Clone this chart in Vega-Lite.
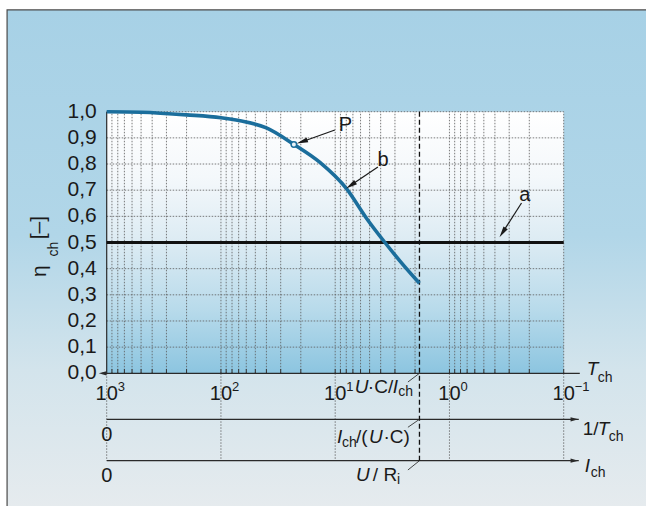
{
  "$schema": "https://vega.github.io/schema/vega-lite/v6.json",
  "width": 457,
  "height": 392.4,
  "autosize": {"type": "none"},
  "padding": {"left": 106.7, "top": 111.7, "right": 82.3, "bottom": 1.9},
  "background": "#ffffff",
  "config": {
    "view": {"stroke": null},
    "font": "Liberation Sans",
    "axis": {"disable": true},
    "text": {"fill": "#1a1a1a", "font": "Liberation Sans"}
  },
  "datasets": {
    "one": [{}],
    "curve": [
      {"T": 1000, "v": 1.0}, {"T": 500, "v": 0.998}, {"T": 200, "v": 0.988},
      {"T": 100, "v": 0.977}, {"T": 68, "v": 0.965}, {"T": 40, "v": 0.938},
      {"T": 23, "v": 0.875}, {"T": 13.6, "v": 0.806}, {"T": 7.94, "v": 0.705},
      {"T": 5.31, "v": 0.592}, {"T": 3.67, "v": 0.5}, {"T": 2.72, "v": 0.43},
      {"T": 1.83, "v": 0.344}
    ],
    "pointP": [{"T": 23, "v": 0.875}],
    "lineA": [{"T": 1000, "v": 0.5}, {"T": 0.1, "v": 0.5}],
    "vgrid": [
      {"T": 0.1}, {"T": 0.2}, {"T": 0.3}, {"T": 0.4}, {"T": 0.5}, {"T": 0.6}, {"T": 0.7}, {"T": 0.8}, {"T": 0.9},
      {"T": 1}, {"T": 2}, {"T": 3}, {"T": 4}, {"T": 5}, {"T": 6}, {"T": 7}, {"T": 8}, {"T": 9},
      {"T": 10}, {"T": 20}, {"T": 30}, {"T": 40}, {"T": 50}, {"T": 60}, {"T": 70}, {"T": 80}, {"T": 90},
      {"T": 100}, {"T": 200}, {"T": 300}, {"T": 400}, {"T": 500}, {"T": 600}, {"T": 700}, {"T": 800}, {"T": 900}
    ],
    "hgrid": [
      {"v": 0.1}, {"v": 0.2}, {"v": 0.3}, {"v": 0.4}, {"v": 0.5},
      {"v": 0.6}, {"v": 0.7}, {"v": 0.8}, {"v": 0.9}, {"v": 1.0}
    ],
    "yticks": [
      {"v": 0.0, "label": "0,0"}, {"v": 0.1, "label": "0,1"}, {"v": 0.2, "label": "0,2"},
      {"v": 0.3, "label": "0,3"}, {"v": 0.4, "label": "0,4"}, {"v": 0.5, "label": "0,5"},
      {"v": 0.6, "label": "0,6"}, {"v": 0.7, "label": "0,7"}, {"v": 0.8, "label": "0,8"},
      {"v": 0.9, "label": "0,9"}, {"v": 1.0, "label": "1,0"}
    ],
    "decades": [
      {"T": 1000, "base": "10", "sup": "3"},
      {"T": 100, "base": "10", "sup": "2"},
      {"T": 10, "base": "10", "sup": "1"},
      {"T": 1, "base": "10", "sup": "0"},
      {"T": 0.1, "base": "10", "sup": "−1"}
    ],
    "axisLines": [
      {"T": 1099, "T2": 0.0723, "v": 0, "v2": 0},
      {"T": 1000, "T2": 0.0738, "v": -0.1758, "v2": -0.1758},
      {"T": 1000, "T2": 0.0738, "v": -0.3341, "v2": -0.3341},
      {"T": 1000, "T2": 1000, "v": 0, "v2": 1}
    ],
    "axisHeads": [
      {"T": 1085, "v": 0, "angle": 270},
      {"T": 0.0805, "v": -0.1758, "angle": 90},
      {"T": 0.0805, "v": -0.3341, "angle": 90}
    ],
    "dashed": [{"T": 1.83, "v": 1, "v2": -0.3341}],
    "leaders": [
      {"T": 1.83, "T2": 2.31, "v": 0, "v2": -0.0333},
      {"T": 1.83, "T2": 2.31, "v": -0.1758, "v2": -0.2064},
      {"T": 1.83, "T2": 2.31, "v": -0.3341, "v2": -0.3696}
    ],
    "curveArrows": [
      {"T": 10.07, "T2": 19.5, "v": 0.93, "v2": 0.8853},
      {"T": 4.23, "T2": 7.14, "v": 0.789, "v2": 0.7217},
      {"T": 0.234, "T2": 0.343, "v": 0.651, "v2": 0.538}
    ],
    "curveHeads": [
      {"T": 19.5, "v": 0.8853, "angle": 250.7},
      {"T": 7.3, "v": 0.719, "angle": 236.1},
      {"T": 0.343, "v": 0.538, "angle": 212.8}
    ],
    "txtReg": [
      {"T": 0.0681, "v": -0.2118, "text": "1/"},
      {"T": 5.18, "v": -0.0524, "text": "·C/"},
      {"T": 6.59, "v": -0.2431, "text": "/("},
      {"T": 3.78, "v": -0.2431, "text": "·C)"},
      {"T": 4.68, "v": -0.3887, "text": "/ R"}
    ],
    "txtIt": [
      {"T": 0.0628, "v": 0.0164, "text": "T"},
      {"T": 0.0504, "v": -0.2118, "text": "T"},
      {"T": 0.0653, "v": -0.3544, "text": "I"},
      {"T": 6.73, "v": -0.0524, "text": "U"},
      {"T": 3.13, "v": -0.0524, "text": "I"},
      {"T": 9.66, "v": -0.2431, "text": "I"},
      {"T": 5.07, "v": -0.2431, "text": "U"},
      {"T": 6.59, "v": -0.3887, "text": "U"}
    ],
    "txtSub": [
      {"T": 0.0504, "v": -0.018, "text": "ch"},
      {"T": 0.0403, "v": -0.2431, "text": "ch"},
      {"T": 0.0579, "v": -0.3811, "text": "ch"},
      {"T": 2.8, "v": -0.0715, "text": "ch"},
      {"T": 8.73, "v": -0.2664, "text": "ch"},
      {"T": 2.88, "v": -0.4079, "text": "i"}
    ],
    "txtCenter": [
      {"T": 1000, "v": -0.2354, "text": "0"},
      {"T": 1000, "v": -0.3922, "text": "0"},
      {"T": 8.15, "v": 0.951, "text": "P"},
      {"T": 3.81, "v": 0.8153, "text": "b"},
      {"T": 0.2188, "v": 0.6816, "text": "a"}
    ],
    "ytitle": [
      {"T": 3834, "v": 0.39, "text": "η"},
      {"T": 3911, "v": 0.557, "text": "[–]"}
    ],
    "ytitleSub": [
      {"T": 2891, "v": 0.4752, "text": "ch"}
    ]
  },
  "layer": [
    {
      "data": {"name": "one"},
      "mark": {
        "type": "rect", "stroke": "#4a4a4a", "strokeWidth": 1.2,
        "fill": {"gradient": "linear", "x1": 0, "y1": 0, "x2": 0, "y2": 1,
          "stops": [
            {"offset": 0, "color": "#a7d1e6"},
            {"offset": 0.45, "color": "#b1d6e8"},
            {"offset": 0.72, "color": "#d3e4ec"},
            {"offset": 1, "color": "#e6ebee"}
          ]}
      },
      "encoding": {
        "x": {"datum": 7447, "type": "quantitative", "scale": {"type": "log", "domain": [0.1, 1000], "reverse": true}},
        "x2": {"datum": 0.0176},
        "y": {"datum": 1.389, "type": "quantitative", "scale": {"domain": [-0.5, 1], "zero": false, "nice": false}},
        "y2": {"datum": -0.5225}
      }
    },
    {
      "data": {"name": "one"},
      "mark": {
        "type": "rect",
        "fill": {"gradient": "linear", "x1": 0, "y1": 0, "x2": 0, "y2": 1,
          "stops": [
            {"offset": 0, "color": "#ffffff"},
            {"offset": 0.25, "color": "#f4f8fb"},
            {"offset": 0.5, "color": "#dcebf3"},
            {"offset": 0.75, "color": "#b9dbeb"},
            {"offset": 1, "color": "#8cc5e0"}
          ]}
      },
      "encoding": {
        "x": {"datum": 1000, "type": "quantitative"},
        "x2": {"datum": 0.1},
        "y": {"datum": 1, "type": "quantitative"},
        "y2": {"datum": 0}
      }
    },
    {
      "data": {"name": "vgrid"},
      "mark": {"type": "rule", "stroke": "#5a5a5a", "strokeDash": [1.5, 1.5], "strokeWidth": 0.8},
      "encoding": {
        "x": {"field": "T", "type": "quantitative"},
        "y": {"datum": 0, "type": "quantitative"},
        "y2": {"datum": 1}
      }
    },
    {
      "data": {"name": "vgrid"},
      "mark": {"type": "rule", "stroke": "#333333", "strokeWidth": 1},
      "encoding": {
        "x": {"field": "T", "type": "quantitative"},
        "y": {"datum": 0, "type": "quantitative"},
        "y2": {"datum": 0.016}
      }
    },
    {
      "data": {"name": "hgrid"},
      "mark": {"type": "rule", "stroke": "#5a5a5a", "strokeDash": [1.5, 1.5], "strokeWidth": 0.8},
      "encoding": {
        "x": {"datum": 1000, "type": "quantitative"},
        "x2": {"datum": 0.1},
        "y": {"field": "v", "type": "quantitative"}
      }
    },
    {
      "data": {"name": "yticks"},
      "mark": {"type": "text", "fontSize": 21, "align": "right", "baseline": "middle", "dx": -10},
      "encoding": {
        "x": {"datum": 1000, "type": "quantitative"},
        "y": {"field": "v", "type": "quantitative"},
        "text": {"field": "label"}
      }
    },
    {
      "data": {"name": "decades"},
      "mark": {"type": "rule", "stroke": "#5a5a5a", "strokeDash": [1.5, 1.5], "strokeWidth": 0.8},
      "encoding": {
        "x": {"field": "T", "type": "quantitative"},
        "y": {"datum": 0, "type": "quantitative"},
        "y2": {"datum": -0.3341}
      }
    },
    {
      "data": {"name": "axisLines"},
      "mark": {"type": "rule", "stroke": "#2a2a2a", "strokeWidth": 1.2},
      "encoding": {
        "x": {"field": "T", "type": "quantitative"},
        "x2": {"field": "T2"},
        "y": {"field": "v", "type": "quantitative"},
        "y2": {"field": "v2"}
      }
    },
    {
      "data": {"name": "axisHeads"},
      "mark": {"type": "point", "shape": "M0,-1L0.55,1L-0.55,1Z", "filled": true, "color": "#2a2a2a", "size": 60, "opacity": 1},
      "encoding": {
        "x": {"field": "T", "type": "quantitative"},
        "y": {"field": "v", "type": "quantitative"},
        "angle": {"field": "angle", "type": "quantitative", "scale": null}
      }
    },
    {
      "data": {"name": "dashed"},
      "mark": {"type": "rule", "stroke": "#111111", "strokeWidth": 1.3, "strokeDash": [5, 3]},
      "encoding": {
        "x": {"field": "T", "type": "quantitative"},
        "y": {"field": "v", "type": "quantitative"},
        "y2": {"field": "v2"}
      }
    },
    {
      "data": {"name": "leaders"},
      "mark": {"type": "rule", "stroke": "#333333", "strokeWidth": 0.9},
      "encoding": {
        "x": {"field": "T", "type": "quantitative"},
        "x2": {"field": "T2"},
        "y": {"field": "v", "type": "quantitative"},
        "y2": {"field": "v2"}
      }
    },
    {
      "data": {"name": "lineA"},
      "mark": {"type": "line", "stroke": "#111111", "strokeWidth": 3.2},
      "encoding": {
        "x": {"field": "T", "type": "quantitative"},
        "y": {"field": "v", "type": "quantitative"}
      }
    },
    {
      "data": {"name": "curve"},
      "mark": {"type": "line", "stroke": "#1b6e9c", "strokeWidth": 3.6, "interpolate": "monotone"},
      "encoding": {
        "x": {"field": "T", "type": "quantitative"},
        "y": {"field": "v", "type": "quantitative"}
      }
    },
    {
      "data": {"name": "pointP"},
      "mark": {"type": "point", "shape": "circle", "filled": true, "fill": "#e8f2f8", "stroke": "#1b6e9c", "strokeWidth": 1.5, "size": 30, "opacity": 1},
      "encoding": {
        "x": {"field": "T", "type": "quantitative"},
        "y": {"field": "v", "type": "quantitative"}
      }
    },
    {
      "data": {"name": "curveArrows"},
      "mark": {"type": "rule", "stroke": "#1a1a1a", "strokeWidth": 1.2},
      "encoding": {
        "x": {"field": "T", "type": "quantitative"},
        "x2": {"field": "T2"},
        "y": {"field": "v", "type": "quantitative"},
        "y2": {"field": "v2"}
      }
    },
    {
      "data": {"name": "curveHeads"},
      "mark": {"type": "point", "shape": "M0,-1L0.45,1L-0.45,1Z", "filled": true, "color": "#1a1a1a", "size": 130, "opacity": 1},
      "encoding": {
        "x": {"field": "T", "type": "quantitative"},
        "y": {"field": "v", "type": "quantitative"},
        "angle": {"field": "angle", "type": "quantitative", "scale": null}
      }
    },
    {
      "data": {"name": "decades"},
      "mark": {"type": "text", "fontSize": 20, "align": "center", "baseline": "middle"},
      "encoding": {
        "x": {"field": "T", "type": "quantitative"},
        "y": {"datum": -0.079, "type": "quantitative"},
        "text": {"field": "base"}
      }
    },
    {
      "data": {"name": "decades"},
      "mark": {"type": "text", "fontSize": 13, "align": "left", "baseline": "middle", "dx": 11, "dy": -7},
      "encoding": {
        "x": {"field": "T", "type": "quantitative"},
        "y": {"datum": -0.079, "type": "quantitative"},
        "text": {"field": "sup"}
      }
    },
    {
      "data": {"name": "txtReg"},
      "mark": {"type": "text", "fontSize": 19, "align": "left", "baseline": "middle"},
      "encoding": {
        "x": {"field": "T", "type": "quantitative"},
        "y": {"field": "v", "type": "quantitative"},
        "text": {"field": "text"}
      }
    },
    {
      "data": {"name": "txtIt"},
      "mark": {"type": "text", "fontSize": 19, "fontStyle": "italic", "align": "left", "baseline": "middle"},
      "encoding": {
        "x": {"field": "T", "type": "quantitative"},
        "y": {"field": "v", "type": "quantitative"},
        "text": {"field": "text"}
      }
    },
    {
      "data": {"name": "txtSub"},
      "mark": {"type": "text", "fontSize": 14, "align": "left", "baseline": "middle"},
      "encoding": {
        "x": {"field": "T", "type": "quantitative"},
        "y": {"field": "v", "type": "quantitative"},
        "text": {"field": "text"}
      }
    },
    {
      "data": {"name": "txtCenter"},
      "mark": {"type": "text", "fontSize": 20, "align": "center", "baseline": "middle"},
      "encoding": {
        "x": {"field": "T", "type": "quantitative"},
        "y": {"field": "v", "type": "quantitative"},
        "text": {"field": "text"}
      }
    },
    {
      "data": {"name": "ytitle"},
      "mark": {"type": "text", "fontSize": 21, "align": "center", "baseline": "middle", "angle": 270},
      "encoding": {
        "x": {"field": "T", "type": "quantitative"},
        "y": {"field": "v", "type": "quantitative"},
        "text": {"field": "text"}
      }
    },
    {
      "data": {"name": "ytitleSub"},
      "mark": {"type": "text", "fontSize": 14, "align": "center", "baseline": "middle", "angle": 270},
      "encoding": {
        "x": {"field": "T", "type": "quantitative"},
        "y": {"field": "v", "type": "quantitative"},
        "text": {"field": "text"}
      }
    }
  ]
}
